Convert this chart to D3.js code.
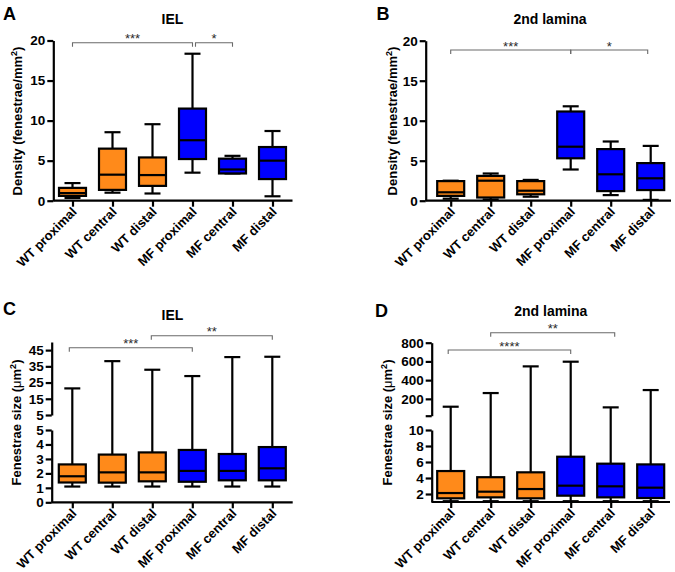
<!DOCTYPE html>
<html><head><meta charset="utf-8">
<script src="https://cdn.jsdelivr.net/npm/d3@7"></script>
<style>
body{margin:0;background:#fff}
svg{display:block}
text{font-family:"Liberation Sans",Arial,sans-serif}
</style>
</head><body>
<svg id="c" width="675" height="572"></svg>
<script>
// ---------- DATA ----------
const categories = ["WT proximal","WT central","WT distal","MF proximal","MF central","MF distal"];
// each entry: [min, Q1, median, Q3, max]
const densityIEL = [
  [0.35, 0.6, 0.95, 1.6, 2.2],
  [1.0, 1.35, 3.25, 6.5, 8.55],
  [0.9, 1.85, 3.2, 5.4, 9.55],
  [3.5, 5.2, 7.55, 11.5, 18.35],
  [3.4, 3.4, 3.9, 5.25, 5.6],
  [0.55, 2.7, 5.0, 6.7, 8.7]
];
const densityLamina = [
  [0.25, 0.6, 1.05, 2.45, 2.5],
  [0.15, 0.4, 2.5, 3.1, 3.4],
  [0.5, 0.8, 1.25, 2.45, 2.6],
  [3.9, 5.3, 6.75, 11.15, 11.8],
  [0.7, 1.2, 3.3, 6.45, 7.4],
  [0.1, 1.33, 2.8, 4.7, 6.85]
];
const sizeIEL = [
  [1.09, 1.37, 1.8, 2.62, 21.4],
  [1.09, 1.36, 2.07, 3.3, 38.2],
  [1.09, 1.45, 2.07, 3.45, 32.9],
  [1.09, 1.42, 2.17, 3.62, 29],
  [1.09, 1.52, 2.17, 3.34, 40.7],
  [1.09, 1.52, 2.35, 3.82, 40.9]
];
const sizeLamina = [
  [1.1, 1.46, 2.12, 4.87, 116],
  [1.1, 1.58, 2.29, 4.1, 262],
  [1.1, 1.46, 2.62, 4.71, 547],
  [1.1, 1.79, 3.04, 6.66, 597],
  [1.1, 1.58, 2.96, 5.79, 109],
  [1.1, 1.5, 2.79, 5.7, 294]
];
const densityTicks = [0, 5, 10, 15, 20];
const sizeIELLowerTicks = [0, 1, 2, 3, 4, 5];
const sizeIELUpperTicks = [5, 15, 25, 35, 45];
const sizeLaminaLowerTicks = [2, 4, 6, 8, 10];
const sizeLaminaUpperTicks = [20, 200, 400, 600, 800];

// ---------- DRAW ----------
const svg = d3.select("#c");
const color = d3.scaleOrdinal().domain(["WT","MF"]).range(["#ff8a1a","#0000ff"]);
const FONT = "Liberation Sans, Arial, sans-serif";
const fmtInt = d3.format("d");

function styleAxis(sel){
  sel.select(".domain").attr("stroke","#000").attr("stroke-width",2.2);
  sel.selectAll(".tick line").attr("stroke","#000").attr("stroke-width",2.2);
  sel.selectAll(".tick text").attr("fill","#000").attr("font-size",13.5).attr("font-weight","bold").attr("font-family",FONT);
}

function panel(cfg){
  const g = svg.append("g");
  const x = d3.scalePoint().domain(categories).range([cfg.cx0, cfg.cx1]);
  let yf, baseY;
  if (cfg.upper){
    const yl = d3.scaleLinear().domain(cfg.lower.domain).range(cfg.lower.range);
    const yu = d3.scaleLinear().domain(cfg.upper.domain).range(cfg.upper.range);
    yf = v => v <= cfg.lower.domain[1] ? yl(v) : yu(v);
    baseY = cfg.lower.range[0];
    const al = g.append("g").attr("transform",`translate(${cfg.ax0},0)`)
      .call(d3.axisLeft(yl).tickValues(cfg.lower.ticks).tickSize(6).tickSizeOuter(0).tickPadding(2).tickFormat(fmtInt));
    styleAxis(al);
    const au = g.append("g").attr("transform",`translate(${cfg.ax0},0)`)
      .call(d3.axisLeft(yu).tickValues(cfg.upper.ticks).tickSize(6).tickSizeOuter(0).tickPadding(2)
        .tickFormat(cfg.upper.fmt || fmtInt));
    styleAxis(au);
  } else {
    const y = d3.scaleLinear().domain(cfg.domain).range(cfg.range);
    yf = y; baseY = cfg.range[0];
    const ay = g.append("g").attr("transform",`translate(${cfg.ax0},0)`)
      .call(d3.axisLeft(y).tickValues(cfg.ticks).tickSize(6).tickSizeOuter(0).tickPadding(2).tickFormat(fmtInt));
    styleAxis(ay);
  }
  // x axis
  const ax = g.append("g").attr("transform",`translate(0,${baseY})`)
    .call(d3.axisBottom(x).tickSize(6).tickSizeOuter(0).tickFormat(""));
  ax.select(".domain").attr("d",`M${cfg.ax0},0H${cfg.ax1}`);
  styleAxis(ax);
  // x labels
  g.selectAll(".xl").data(categories).join("text")
    .attr("transform", d=>`translate(${x(d)+5},${baseY+12}) rotate(-45)`)
    .attr("text-anchor","end").attr("font-size",13).attr("font-weight","bold")
    .attr("fill","#000").text(d=>d);

  const bw = 27, cw = 16;
  const rows = categories.map((c,i)=>({c, g:c.split(" ")[0], v:cfg.data[i]}));
  // whiskers
  rows.forEach(r=>{
    const cx = x(r.c);
    const [mn,q1,md,q3,mx] = r.v;
    g.append("line").attr("x1",cx).attr("x2",cx).attr("y1",yf(q3)).attr("y2",yf(mx)).attr("stroke","#000").attr("stroke-width",2.2);
    g.append("line").attr("x1",cx).attr("x2",cx).attr("y1",yf(q1)).attr("y2",yf(mn)).attr("stroke","#000").attr("stroke-width",2.2);
    g.append("line").attr("x1",cx-cw/2).attr("x2",cx+cw/2).attr("y1",yf(mx)).attr("y2",yf(mx)).attr("stroke","#000").attr("stroke-width",2.2);
    g.append("line").attr("x1",cx-cw/2).attr("x2",cx+cw/2).attr("y1",yf(mn)).attr("y2",yf(mn)).attr("stroke","#000").attr("stroke-width",2.2);
  });
  // boxes
  g.selectAll(".box").data(rows).join("rect")
    .attr("x",d=>x(d.c)-bw/2).attr("width",bw)
    .attr("y",d=>yf(d.v[3])).attr("height",d=>yf(d.v[1])-yf(d.v[3]))
    .attr("fill",d=>color(d.g)).attr("stroke","#000").attr("stroke-width",2.2);
  g.selectAll(".med").data(rows).join("line")
    .attr("x1",d=>x(d.c)-bw/2).attr("x2",d=>x(d.c)+bw/2)
    .attr("y1",d=>yf(d.v[2])).attr("y2",d=>yf(d.v[2]))
    .attr("stroke","#000").attr("stroke-width",2.2);

  // significance brackets
  cfg.sig.forEach(s=>{
    const xa = x(s.from)+(s.da||0), xb = x(s.to)+(s.db||0);
    g.append("path").attr("d",`M${xa},${s.y+4}V${s.y}H${xb}V${s.y+4}`)
      .attr("fill","none").attr("stroke","#6a6a6a").attr("stroke-width",1.1);
    g.append("text").attr("x",(xa+xb)/2).attr("y",s.y+0.5).attr("text-anchor","middle")
      .attr("font-size",13).attr("fill","#2a2a2a").text(s.label);
  });

  // title, letter
  g.append("text").attr("x",cfg.titleX).attr("y",cfg.titleY).attr("text-anchor","middle")
    .attr("font-size",14).attr("font-weight","bold").text(cfg.title);
  g.append("text").attr("x",cfg.letterX).attr("y",cfg.letterY)
    .attr("font-size",18).attr("font-weight","bold").text(cfg.letter);
  // y label
  const yl = g.append("text").attr("transform",`translate(${cfg.ylX},${cfg.ylY}) rotate(-90)`)
    .attr("text-anchor","middle").attr("font-size",13).attr("font-weight","bold");
  cfg.ylabel(yl);
}

function labDensity(t){
  t.append("tspan").text("Density (fenestrae/mm");
  t.append("tspan").attr("font-size",9).attr("dy",-5).text("2");
  t.append("tspan").attr("dy",5).text(")");
}
function labSize(t){
  t.append("tspan").text("Fenestrae size (");
  t.append("tspan").attr("font-weight","normal").text("\u03bc");
  t.append("tspan").text("m");
  t.append("tspan").attr("font-size",9).attr("dy",-5).text("2");
  t.append("tspan").attr("dy",5).text(")");
}

panel({letter:"A", letterX:3, letterY:20, title:"IEL", titleX:172.5, titleY:23.5,
  ax0:53.3, ax1:292.5, cx0:72.5, cx1:272.5,
  domain:[0,20], range:[200.7,40.5], ticks:densityTicks, data:densityIEL,
  ylX:22, ylY:121, ylabel:labDensity,
  sig:[{from:"WT proximal",to:"MF proximal",y:42.7,label:"***"},
       {from:"MF proximal",to:"MF central",y:42.7,label:"*",da:3}]});

panel({letter:"B", letterX:376.5, letterY:20, title:"2nd lamina", titleX:550, titleY:23.5,
  ax0:425.7, ax1:671, cx0:450.7, cx1:650.7,
  domain:[0,20], range:[200.7,40.7], ticks:densityTicks, data:densityLamina,
  ylX:397, ylY:121, ylabel:labDensity,
  sig:[{from:"WT proximal",to:"MF proximal",y:50,label:"***"},
       {from:"MF proximal",to:"MF distal",y:50,label:"*",db:-3}]});

panel({letter:"C", letterX:3, letterY:315, title:"IEL", titleX:172.5, titleY:320,
  ax0:51.7, ax1:292.7, cx0:72.3, cx1:272.3,
  lower:{domain:[0,5], range:[502.3,430], ticks:sizeIELLowerTicks},
  upper:{domain:[5,50], range:[415,342], ticks:sizeIELUpperTicks},
  data:sizeIEL, ylX:20.5, ylY:422.5, ylabel:labSize,
  sig:[{from:"WT proximal",to:"MF proximal",y:347.7,label:"***",da:-3},
       {from:"WT distal",to:"MF distal",y:335.7,label:"**",da:-1}]});

panel({letter:"D", letterX:375, letterY:317, title:"2nd lamina", titleX:550.8, titleY:315.5,
  ax0:431.7, ax1:670, cx0:450.7, cx1:650.7,
  lower:{domain:[1,10], range:[502,430], ticks:sizeLaminaLowerTicks},
  upper:{domain:[20,800], range:[415.7,342.7], ticks:sizeLaminaUpperTicks, fmt:d=>d===20?"":d},
  data:sizeLamina, ylX:392, ylY:422.5, ylabel:labSize,
  sig:[{from:"WT proximal",to:"MF proximal",y:350,label:"****",da:-2.5},
       {from:"WT central",to:"MF central",y:332.7,label:"**",db:4}]});
</script>
</body></html>
